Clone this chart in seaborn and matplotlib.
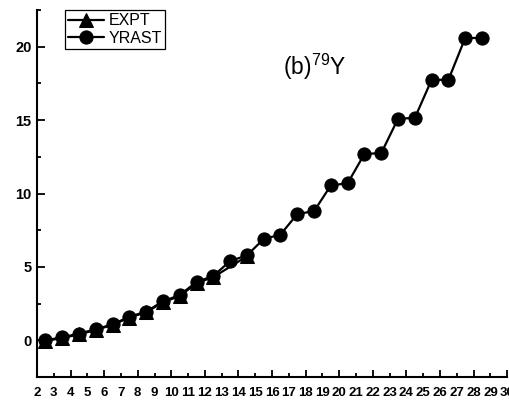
import seaborn as sns
import pandas as pd
import matplotlib.pyplot as plt
from matplotlib.ticker import MultipleLocator, FormatStrFormatter

# spin values (half-integer) and energies
yrast_spin = [2.5, 3.5, 4.5, 5.5, 6.5, 7.5, 8.5, 9.5, 10.5, 11.5, 12.5, 13.5, 14.5, 15.5,
              16.5, 17.5, 18.5, 19.5, 20.5, 21.5, 22.5, 23.5, 24.5, 25.5, 26.5, 27.5, 28.5]
yrast_energy = [0.0, 0.2, 0.45, 0.75, 1.08, 1.6, 1.95, 2.65, 3.08, 3.97, 4.38, 5.4, 5.78, 6.9,
                7.2, 8.6, 8.8, 10.55, 10.7, 12.7, 12.75, 15.1, 15.15, 17.75, 17.75, 20.6, 20.6]
expt_spin = [2.5, 3.5, 4.5, 5.5, 6.5, 7.5, 8.5, 9.5, 10.5, 11.5, 12.5, 14.5]
expt_energy = [-0.05, 0.15, 0.4, 0.7, 1.05, 1.55, 1.9, 2.6, 3.0, 3.9, 4.3, 5.72]

sns.set_style("ticks")
plt.rcParams['font.family'] = ['Liberation Sans', 'DejaVu Sans']
plt.rcParams['mathtext.default'] = 'regular'
plt.rcParams['text.color'] = 'black'
plt.rcParams['xtick.color'] = 'black'
plt.rcParams['ytick.color'] = 'black'
plt.rcParams['axes.edgecolor'] = 'black'

fig = plt.figure(figsize=(5.1, 4.04), dpi=100)
ax = fig.add_axes([0.0725, 0.067, 0.922, 0.908])

expt_df = pd.DataFrame({'spin': expt_spin, 'energy': expt_energy})
yrast_df = pd.DataFrame({'spin': yrast_spin, 'energy': yrast_energy})

sns.lineplot(data=expt_df, x='spin', y='energy', ax=ax, color='black', lw=1.6,
             marker='^', markersize=10, mec='black', mfc='black', label='EXPT')
sns.lineplot(data=yrast_df, x='spin', y='energy', ax=ax, color='black', lw=1.6,
             marker='o', markersize=9.5, mec='black', mfc='black', label='YRAST')

ax.set_xlim(2, 30)
ax.set_ylim(-2.5, 22.5)
ax.set_xlabel('')
ax.set_ylabel('')

# x axis: long ticks on even, short ticks on odd, all labelled
ax.xaxis.set_major_locator(MultipleLocator(2))
ax.xaxis.set_minor_locator(MultipleLocator(1))
ax.xaxis.set_major_formatter(FormatStrFormatter('%d'))
ax.xaxis.set_minor_formatter(FormatStrFormatter('%d'))
ax.yaxis.set_major_locator(MultipleLocator(5))
ax.yaxis.set_minor_locator(MultipleLocator(2.5))

ax.tick_params(which='major', direction='in', length=5, width=1.3, labelsize=9.5, pad=7)
ax.tick_params(which='minor', direction='in', length=3, width=1.3, labelsize=9.5, pad=7)
ax.tick_params(axis='y', which='major', length=6, labelsize=10.5, pad=4)
for lab in ax.get_xticklabels(which='both') + ax.get_yticklabels():
    lab.set_fontweight('bold')

sns.despine(ax=ax)
for side in ['left', 'bottom']:
    ax.spines[side].set_linewidth(1.5)

ax.text(0.523, 0.823, '(b)$^{79}$Y', transform=ax.transAxes, fontsize=16.5, color='black')

leg = ax.legend(loc='upper left', bbox_to_anchor=(0.06, 1.0), borderaxespad=0,
                fontsize=11.5, handlelength=2.2, fancybox=False, framealpha=1,
                edgecolor='black', borderpad=0.2, labelspacing=0.15, handletextpad=0.3)
leg.get_frame().set_linewidth(0.9)
for t in leg.get_texts():
    t.set_color('black')

fig.savefig('out.png', dpi=100)
